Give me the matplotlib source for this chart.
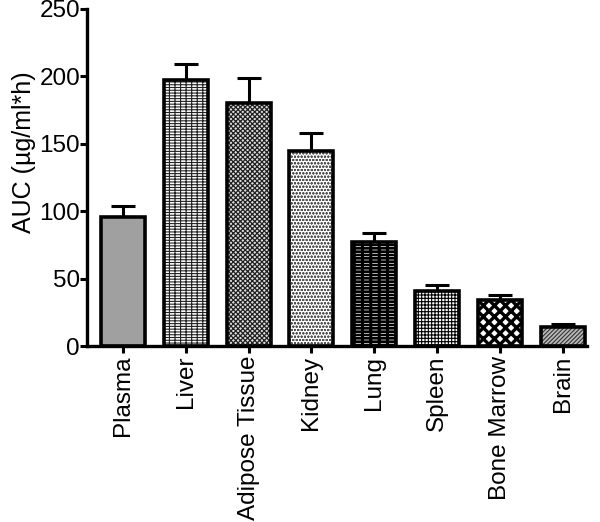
import numpy as np
import matplotlib
matplotlib.use("Agg")
import matplotlib.pyplot as plt

plt.rcParams["font.family"] = ["Liberation Sans", "DejaVu Sans"]
plt.rcParams["hatch.linewidth"] = 0.8

tissues = ["Plasma", "Liver", "Adipose Tissue", "Kidney", "Lung",
           "Spleen", "Bone Marrow", "Brain"]
auc = [96, 197, 180, 145, 77, 41, 34, 14]
sem = [8, 12, 19, 13, 7, 4, 4, 2.5]

# fill style per bar: facecolor, hatch colour, hatch, hatch linewidth
faces = ["#a0a0a0", "white", "#dddddd", "white", "white", "white", "white", "#b8b8b8"]
hatch_colors = ["#a0a0a0", "#222222", "#222222", "#555555", "black", "black", "black", "#333333"]
hatches = ["", "------|||", "xxxxxxx", "ooooo", "-----||", "+++++", "xxx", "////////"]
hatch_lws = [0.8, 0.8, 0.9, 0.6, 1.9, 0.8, 2.4, 0.8]

fig = plt.figure(figsize=(6, 5.22), dpi=100)
ax = fig.add_axes([0.145, 0.337, 0.833, 0.646])

x = np.arange(len(tissues))
width = 0.7

# patterned fill first, then black outline on top
for i in range(len(tissues)):
    plt.rcParams["hatch.linewidth"] = hatch_lws[i]
    b = ax.bar(x[i], auc[i], width, color=faces[i], edgecolor=hatch_colors[i],
               hatch=hatches[i], linewidth=0, zorder=2)
    for p in b:
        if hasattr(p, "set_hatch_linewidth"):
            p.set_hatch_linewidth(hatch_lws[i])
ax.bar(x, auc, width, facecolor="none", edgecolor="black", linewidth=2.6, zorder=3)

ax.errorbar(x, auc, yerr=[np.zeros(len(sem)), sem], fmt="none", ecolor="black",
            elinewidth=2.2, capsize=8.6, capthick=2.2, zorder=1)

ax.set_ylim(0, 250)
ax.set_yticks([0, 50, 100, 150, 200, 250])
ax.set_xlim(-0.57, 7.38)
ax.set_xticks(x)
ax.set_xticklabels(tissues, rotation=90)
ax.set_ylabel("AUC (µg/ml*h)", fontsize=18)
ax.yaxis.set_label_coords(-0.102, 0.576)

ax.spines["top"].set_visible(False)
ax.spines["right"].set_visible(False)
ax.spines["left"].set_linewidth(2.4)
ax.spines["bottom"].set_linewidth(2.4)
ax.tick_params(axis="both", labelsize=17.5, width=2.2, direction="out")
ax.tick_params(axis="y", length=5, pad=0)
ax.tick_params(axis="x", length=5, pad=2)

fig.savefig("out.png", dpi=100)
